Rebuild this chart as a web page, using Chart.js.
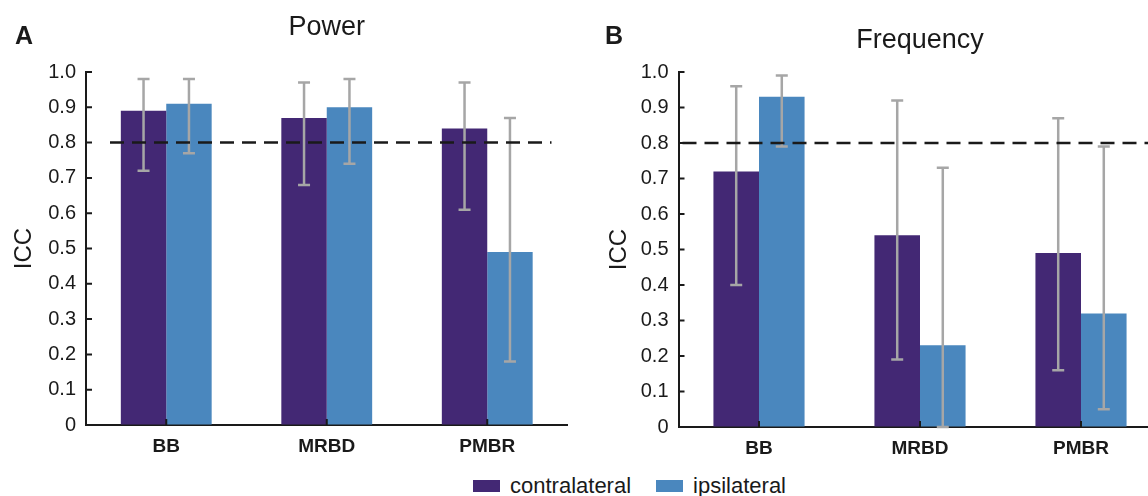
<!DOCTYPE html>
<html>
<head>
<meta charset="utf-8">
<script src="https://cdn.jsdelivr.net/npm/chart.js@4.4.1/dist/chart.umd.min.js"></script>
<style>
  body { margin: 0; width: 1148px; height: 496px; overflow: hidden; background: #fff; position: relative;
         font-family: 'Liberation Sans', Arial, sans-serif; color: rgb(26, 26, 26); }
  .panel { position: absolute; top: 0; }
  .tag { position: absolute; top: 23px; font-weight: bold; font-size: 25px; line-height: 24px; }
  #legend { position: absolute; top: 474px; left: 473px; display: flex; align-items: center; font-size: 22px; line-height: 24px; white-space: nowrap; }
  .sw { display: inline-block; width: 27px; height: 12px; margin-right: 10px; }
</style>
</head>
<body>
<canvas id="power" class="panel" style="left:0px" width="580" height="470"></canvas>
<canvas id="freq" class="panel" style="left:580px" width="600" height="470"></canvas>
<div class="tag" style="left:15px">A</div>
<div class="tag" style="left:605px">B</div>
<div id="legend">
  <span class="sw" style="background:rgb(67, 40, 116)"></span><span>contralateral</span>
  <span class="sw" style="background:rgb(74, 135, 190); margin-left:25px"></span><span>ipsilateral</span>
</div>
<script>
const categories = ['BB', 'MRBD', 'PMBR']
const threshold = 0.8

// Power (panel A)
const powerContra   = [0.89, 0.87, 0.84]
const powerContraLo = [0.72, 0.68, 0.61]
const powerContraHi = [0.98, 0.97, 0.97]
const powerIpsi     = [0.91, 0.90, 0.49]
const powerIpsiLo   = [0.77, 0.74, 0.18]
const powerIpsiHi   = [0.98, 0.98, 0.87]

// Frequency (panel B)
const freqContra   = [0.72, 0.54, 0.49]
const freqContraLo = [0.40, 0.19, 0.16]
const freqContraHi = [0.96, 0.92, 0.87]
const freqIpsi     = [0.93, 0.23, 0.32]
const freqIpsiLo   = [0.79, 0.00, 0.05]
const freqIpsiHi   = [0.99, 0.73, 0.79]

const purple =  'rgb(67, 40, 116)'
const blue =    'rgb(74, 135, 190)'
const errGrey = 'rgb(166, 166, 166)'
const ink =     'rgb(26, 26, 26)'
const family =  "'Liberation Sans', Arial, sans-serif"

//grey error bars with caps, centred on every bar
const errorBars = {
    id: 'errorBars',
    afterDatasetsDraw(chart) {
        const ctx = chart.ctx
        const y = chart.scales.y
        ctx.save()
        ctx.strokeStyle = errGrey
        ctx.lineWidth = 2.5
        chart.data.datasets.forEach((ds, d) => {
            chart.getDatasetMeta(d).data.forEach((bar, j) => {
                const top = y.getPixelForValue(ds.errHi[j])
                const bot = y.getPixelForValue(ds.errLo[j])
                ctx.beginPath()
                ctx.moveTo(bar.x, top); ctx.lineTo(bar.x, bot)
                ctx.moveTo(bar.x - 6, top); ctx.lineTo(bar.x + 6, top)
                ctx.moveTo(bar.x - 6, bot); ctx.lineTo(bar.x + 6, bot)
                ctx.stroke()
            })
        })
        ctx.restore()
    }
}

//dashed reference line at ICC = 0.8
const thresholdLine = {
    id: 'threshold',
    afterDatasetsDraw(chart, args, opts) {
        const {ctx, chartArea: a, scales: {y}} = chart
        const py = y.getPixelForValue(opts.value)
        ctx.save()
        ctx.strokeStyle = ink
        ctx.lineWidth = 2.5
        ctx.setLineDash([14, 8])
        ctx.beginPath()
        ctx.moveTo(a.left + opts.from, py)
        ctx.lineTo(a.right + opts.to, py)
        ctx.stroke()
        ctx.restore()
    }
}

//small tick marks pointing into the plot
const inwardTicks = {
    id: 'inwardTicks',
    afterDraw(chart) {
        const {ctx, chartArea: a, scales: {x, y}} = chart
        ctx.save()
        ctx.strokeStyle = ink
        ctx.lineWidth = 2
        ctx.beginPath()
        y.ticks.forEach((t, i) => {
            const py = y.getPixelForTick(i)
            ctx.moveTo(a.left, py); ctx.lineTo(a.left + 6, py)
        })
        x.ticks.forEach((t, i) => {
            const px = x.getPixelForTick(i)
            ctx.moveTo(px, a.bottom); ctx.lineTo(px, a.bottom - 6)
        })
        ctx.stroke()
        ctx.restore()
    }
}

function buildChart(id, cfg) {
    return new Chart(document.getElementById(id), {
        type: 'bar',
        data: {
            labels: categories,
            datasets: [
                {label: 'contralateral', data: cfg.contra, backgroundColor: purple, errLo: cfg.contraLo, errHi: cfg.contraHi},
                {label: 'ipsilateral', data: cfg.ipsi, backgroundColor: blue, errLo: cfg.ipsiLo, errHi: cfg.ipsiHi},
            ]
        },
        options: {
            responsive: false,
            animation: false,
            devicePixelRatio: 1,
            layout: {padding: {left: 0, right: cfg.padRight, top: 0, bottom: 0}},
            datasets: {bar: {categoryPercentage: 0.566, barPercentage: 1.0}},
            plugins: {
                legend: {display: false},
                tooltip: {enabled: false},
                title: {
                    display: true,
                    text: cfg.title,
                    fullSize: false,
                    color: ink,
                    font: {size: 27, family: family, weight: 'normal'},
                    padding: {top: cfg.titleTop, bottom: cfg.titleBottom}
                },
                threshold: {value: threshold, from: cfg.dashFrom, to: cfg.dashTo}
            },
            scales: {
                x: {
                    z: 1,
                    grid: {drawOnChartArea: false, drawTicks: false},
                    border: {color: ink, width: 2},
                    ticks: {
                        color: ink,
                        padding: 10,
                        maxRotation: 0,
                        font: {size: 19, family: family, weight: 'bold'}
                    },
                    afterFit(s) { s.height = cfg.xHeight }
                },
                y: {
                    min: 0,
                    max: 1,
                    grid: {drawOnChartArea: false, drawTicks: false},
                    border: {color: ink, width: 2},
                    ticks: {
                        stepSize: 0.1,
                        padding: 10,
                        color: ink,
                        font: {size: 20, family: family},
                        callback: v => v === 0 ? '0' : v.toFixed(1)
                    },
                    title: {
                        display: true,
                        text: 'ICC',
                        color: ink,
                        font: {size: 24, family: family},
                        padding: {top: cfg.yTitlePad, bottom: 0}
                    },
                    afterFit(s) { s.width = cfg.yWidth }
                }
            }
        },
        plugins: [errorBars, thresholdLine, inwardTicks]
    })
}

buildChart('power', {
    title: 'Power',
    contra: powerContra, contraLo: powerContraLo, contraHi: powerContraHi,
    ipsi: powerIpsi, ipsiLo: powerIpsiLo, ipsiHi: powerIpsiHi,
    yWidth: 86, padRight: 12.5, xHeight: 45,
    titleTop: 11, titleBottom: 28.6, yTitlePad: 10,
    dashFrom: 24, dashTo: -16
})

buildChart('freq', {
    title: 'Frequency',
    contra: freqContra, contraLo: freqContraLo, contraHi: freqContraHi,
    ipsi: freqIpsi, ipsiLo: freqIpsiLo, ipsiHi: freqIpsiHi,
    yWidth: 98.5, padRight: 18.5, xHeight: 43,
    titleTop: 24, titleBottom: 15.6, yTitlePad: 25,
    dashFrom: 4, dashTo: 0
})
</script>
</body>
</html>
